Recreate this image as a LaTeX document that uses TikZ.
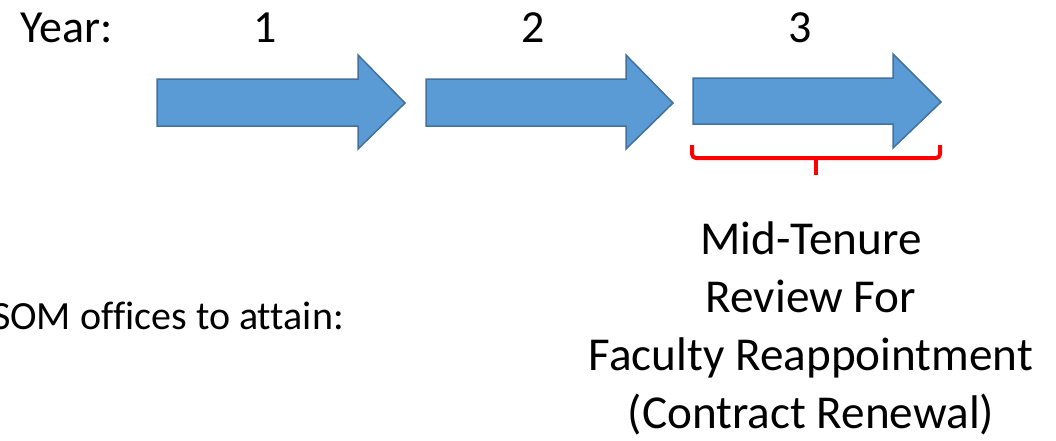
\documentclass[tikz,border=0pt]{standalone}
\usepackage{fontspec}
\setmainfont{Carlito}[Ligatures={NoCommon}]
\definecolor{arrowfill}{HTML}{5B9BD5}
\definecolor{arrowline}{HTML}{41719C}
\begin{document}
\begin{tikzpicture}[x=1pt,y=-1pt,
  bigarrow/.style={fill=arrowfill,draw=arrowline,line width=1.5pt,line join=miter},
  yeartext/.style={font=\fontsize{46}{52}\selectfont,inner sep=0pt},
  reviewtext/.style={font=\fontsize{47.2}{58}\selectfont,align=center,inner sep=0pt},
  sidetext/.style={font=\fontsize{40}{46}\selectfont,inner sep=0pt},
  bracestyle/.style={draw=red,line width=4pt,rounded corners=4pt}]
\useasboundingbox (0,0) rectangle (1056,440);
% arrows
\draw[bigarrow] (157,79) -- (358,79) -- (358,55) -- (405,103) -- (358,149) -- (358,126) -- (157,126) -- cycle;
\draw[bigarrow] (426,79) -- (626,79) -- (626,55) -- (673,103) -- (626,149) -- (626,126) -- (426,126) -- cycle;
\draw[bigarrow] (693,78) -- (893,78) -- (893,54) -- (941,102) -- (893,148) -- (893,124) -- (693,124) -- cycle;
% texts
\node[yeartext,anchor=west] (year) at (20,28) {Year:};
\node[yeartext] (y1) at (265,28) {1};
\node[yeartext] (y2) at (533,28) {2};
\node[yeartext] (y3) at (800,28) {3};
% brace
\coordinate (bl) at (692,145);
\coordinate (br) at (940,145);
\draw[bracestyle] (bl) -- (692,158) -- (940,158) -- (br);
\draw[draw=red,line width=4pt] (816,158) -- (816,175);
\node[reviewtext] (review) at (811,328) {Mid-Tenure\\Review For\\Faculty Reappointment\\(Contract Renewal)};
\node[sidetext,anchor=east] (som) at (344,316) {SOM offices to attain:};
\end{tikzpicture}
\end{document}
